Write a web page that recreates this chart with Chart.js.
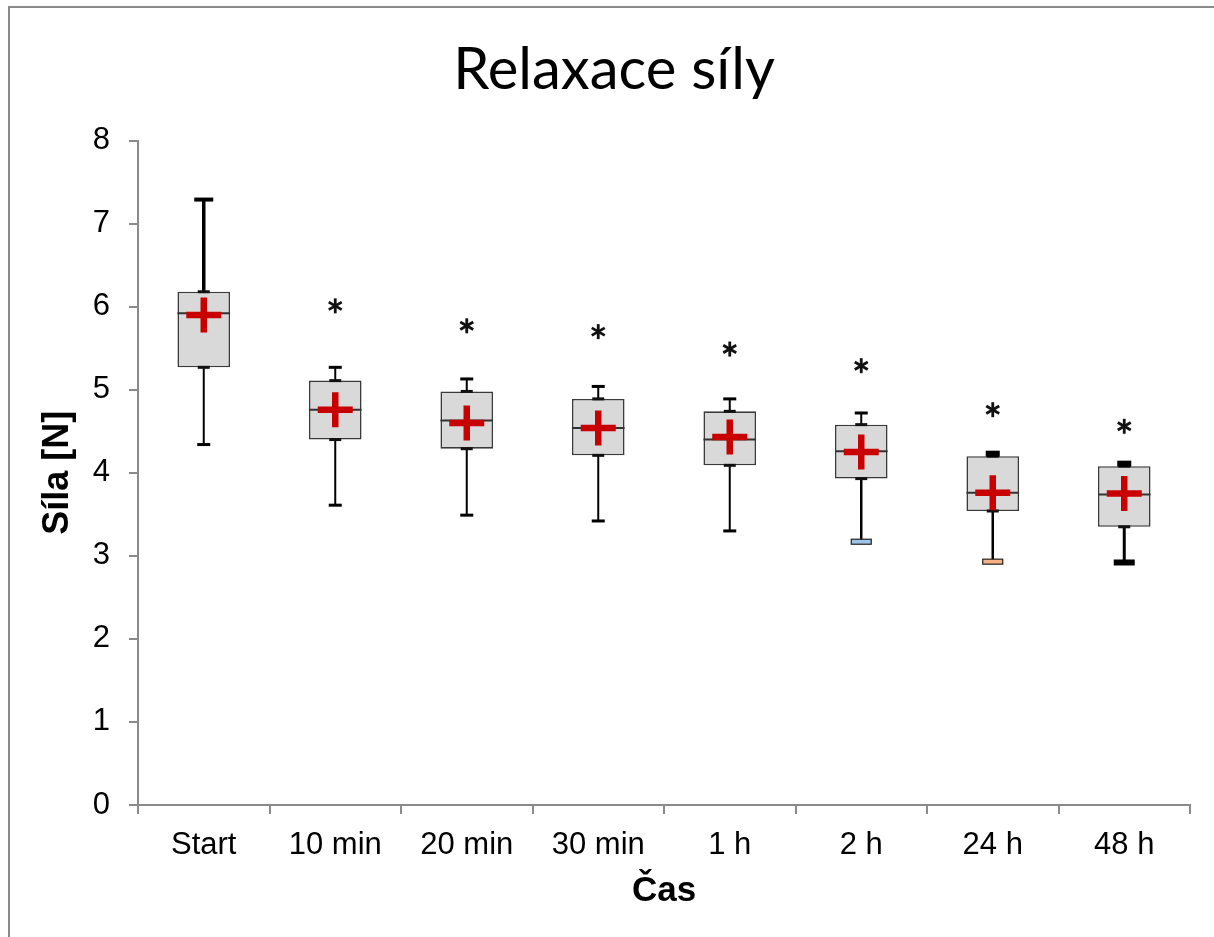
<!DOCTYPE html>
<html><head><meta charset="utf-8">
<script src="https://cdn.jsdelivr.net/npm/chart.js@4.4.1/dist/chart.umd.min.js"></script>
<style>html,body{margin:0;padding:0;background:#fff}#wrap{width:1214px;height:937px;position:relative}canvas{display:block}</style>
</head><body><div id="wrap"><canvas id="c" width="1214" height="937"></canvas></div>
<script>
// ---- data ----
const categories = ['Start', '10 min', '20 min', '30 min', '1 h', '2 h', '24 h', '48 h'];
const whiskerLow  = [4.34, 3.61, 3.49, 3.42, 3.30, 3.17, 2.93, 2.92];
const q1          = [5.27, 4.40, 4.29, 4.21, 4.09, 3.93, 3.54, 3.35];
const medians     = [5.92, 4.76, 4.63, 4.54, 4.40, 4.26, 3.76, 3.74];
const q3          = [6.18, 5.11, 4.98, 4.89, 4.74, 4.58, 4.20, 4.08];
const whiskerHigh = [7.29, 5.27, 5.13, 5.04, 4.89, 4.72, 4.23, 4.11];
const means       = [5.90, 4.76, 4.60, 4.54, 4.43, 4.25, 3.76, 3.75];
const significance = [null, 6.01, 5.77, 5.70, 5.49, 5.29, 4.76, 4.56];
const yTickValues = [0, 1, 2, 3, 4, 5, 6, 7, 8];

// ---- styles (not data) ----
const topCapStyle = [
  {w: 19, h: 4, fill: '#000', stroke: null},
  {w: 13, h: 3, fill: '#000', stroke: null},
  {w: 13, h: 3, fill: '#000', stroke: null},
  {w: 13, h: 3, fill: '#000', stroke: null},
  {w: 13, h: 3, fill: '#000', stroke: null},
  {w: 13, h: 3, fill: '#000', stroke: null},
  {w: 14, h: 6, fill: '#000', stroke: null},
  {w: 14, h: 6, fill: '#000', stroke: null}
];
const bottomCapStyle = [
  {w: 13, h: 3, fill: '#000', stroke: null},
  {w: 13, h: 3, fill: '#000', stroke: null},
  {w: 13, h: 3, fill: '#000', stroke: null},
  {w: 13, h: 3, fill: '#000', stroke: null},
  {w: 13, h: 3, fill: '#000', stroke: null},
  {w: 20, h: 5, fill: '#9dc3e6', stroke: '#222'},
  {w: 20, h: 5, fill: '#f4b183', stroke: '#222'},
  {w: 21, h: 6, fill: '#000', stroke: null}
];
const upperWhiskerWidth = [3.5, 2, 2, 2, 2, 2, 2, 2];
const lowerWhiskerWidth = [2, 2, 2, 2, 2, 2.5, 2.5, 3];

const boxPlugin = {
  id: 'boxExtras',
  beforeDraw(chart) {
    const ctx = chart.ctx;
    ctx.save();
    ctx.fillStyle = '#fff';
    ctx.fillRect(0, 0, chart.width, chart.height);
    ctx.strokeStyle = '#8a8a8a';
    ctx.lineWidth = 2;
    ctx.beginPath();
    ctx.moveTo(9, chart.height);
    ctx.lineTo(9, 7);
    ctx.lineTo(chart.width, 7);
    ctx.stroke();
    ctx.restore();
  },
  beforeDatasetsDraw(chart) {
    const ctx = chart.ctx, xs = chart.scales.x, ys = chart.scales.y;
    ctx.save();
    ctx.strokeStyle = '#000';
    categories.forEach((c, i) => {
      const x = xs.getPixelForValue(i);
      ctx.lineWidth = upperWhiskerWidth[i];
      ctx.beginPath();
      ctx.moveTo(x, ys.getPixelForValue(q3[i]));
      ctx.lineTo(x, ys.getPixelForValue(whiskerHigh[i]));
      ctx.stroke();
      ctx.lineWidth = lowerWhiskerWidth[i];
      ctx.beginPath();
      ctx.moveTo(x, ys.getPixelForValue(q1[i]));
      ctx.lineTo(x, ys.getPixelForValue(whiskerLow[i]));
      ctx.stroke();
    });
    ctx.restore();
  },
  afterDatasetDraw(chart, args) {
    if (args.index !== 0) return;
    const ctx = chart.ctx, xs = chart.scales.x, ys = chart.scales.y;
    const meta = chart.getDatasetMeta(0);
    ctx.save();
    const cap = (x, y, s) => {
      ctx.fillStyle = s.fill;
      ctx.fillRect(x - s.w / 2, y - s.h / 2, s.w, s.h);
      if (s.stroke) {
        ctx.strokeStyle = s.stroke; ctx.lineWidth = 1.2;
        ctx.strokeRect(x - s.w / 2, y - s.h / 2, s.w, s.h);
      }
    };
    categories.forEach((c, i) => {
      const x = xs.getPixelForValue(i);
      const bw = meta.data[i].width;
      ctx.strokeStyle = '#333';
      ctx.lineWidth = 2;
      const ym = ys.getPixelForValue(medians[i]);
      ctx.beginPath();
      ctx.moveTo(x - bw / 2, ym);
      ctx.lineTo(x + bw / 2, ym);
      ctx.stroke();
      cap(x, ys.getPixelForValue(q3[i]), {w: 12, h: 3, fill: '#111'});
      cap(x, ys.getPixelForValue(q1[i]), {w: 12, h: 3, fill: '#111'});
      cap(x, ys.getPixelForValue(whiskerHigh[i]), topCapStyle[i]);
      cap(x, ys.getPixelForValue(whiskerLow[i]), bottomCapStyle[i]);
    });
    ctx.restore();
  },
  afterDatasetsDraw(chart) {
    const ctx = chart.ctx, xs = chart.scales.x, ys = chart.scales.y;
    ctx.save();
    ctx.strokeStyle = '#111';
    ctx.lineWidth = 2.8;
    ctx.lineCap = 'butt';
    significance.forEach((v, i) => {
      if (v === null) return;
      const x = xs.getPixelForValue(i), y = ys.getPixelForValue(v);
      const r = 7.5;
      for (const a of [90, 30, -30]) {
        const rad = a * Math.PI / 180;
        ctx.beginPath();
        ctx.moveTo(x - r * Math.cos(rad), y - r * Math.sin(rad));
        ctx.lineTo(x + r * Math.cos(rad), y + r * Math.sin(rad));
        ctx.stroke();
      }
    });
    ctx.restore();
  }
};

Chart.defaults.font.family = "'Liberation Sans', Arial, sans-serif";
Chart.defaults.color = '#000';

new Chart(document.getElementById('c'), {
  type: 'bar',
  data: {
    labels: categories,
    datasets: [
      {
        label: 'Box',
        data: q1.map((v, i) => [v, q3[i]]),
        backgroundColor: '#d9d9d9',
        borderColor: '#3a3a3a',
        borderWidth: 1.6,
        borderSkipped: false,
        categoryPercentage: 1,
        barPercentage: 0.4,
        order: 1
      },
      {
        type: 'line',
        label: 'Mean',
        data: means,
        showLine: false,
        pointStyle: 'cross',
        pointRadius: 17.5,
        pointBorderWidth: 6.5,
        pointBorderColor: '#c80000',
        pointBackgroundColor: '#c80000',
        order: 0
      }
    ]
  },
  options: {
    responsive: false,
    animation: false,
    events: [],
    layout: {padding: {top: 0, left: 38, right: 24, bottom: 0}},
    plugins: {
      legend: {display: false},
      tooltip: {enabled: false},
      title: {
        display: true,
        text: 'Relaxace síly',
        font: {family: 'Lato', size: 58, weight: 'normal'},
        color: '#000',
        padding: {top: 35, bottom: 36}
      }
    },
    scales: {
      x: {
        offset: true,
        grid: {display: true, offset: true, drawOnChartArea: false, tickLength: 9, color: '#8a8a8a', lineWidth: 2},
        border: {color: '#8a8a8a', width: 2},
        ticks: {font: {size: 31}, padding: 13, color: '#000'},
        title: {display: true, text: 'Čas', font: {size: 35, weight: 'bold'}, padding: {top: 0, bottom: 25}},
        afterFit(s) { s.height = 132; }
      },
      y: {
        min: 0, max: 8,
        afterBuildTicks(s) { s.ticks = yTickValues.map(v => ({value: v})); },
        grid: {display: true, drawOnChartArea: false, tickLength: 9, color: '#8a8a8a', lineWidth: 2},
        border: {color: '#8a8a8a', width: 2},
        ticks: {font: {size: 31}, padding: 19, color: '#000'},
        title: {display: true, text: 'Síla [N]', font: {size: 36, weight: 'bold'}, padding: {top: -2, bottom: 0}},
        afterFit(s) { s.width = 100; }
      }
    }
  },
  plugins: [boxPlugin]
});
</script>
</body></html>
